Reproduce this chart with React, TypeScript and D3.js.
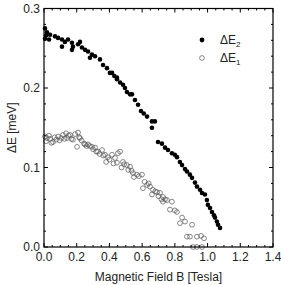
import * as d3 from 'd3';

// ΔE2 (filled) : [B (Tesla), ΔE (meV)]
const deltaE2: [number, number][] = [
  [0.006, 0.275], [0.018, 0.27], [0.006, 0.262], [0.012, 0.266], [0.037, 0.267],
  [0.031, 0.261], [0.067, 0.265], [0.086, 0.263], [0.11, 0.261], [0.11, 0.252],
  [0.128, 0.258], [0.147, 0.261], [0.171, 0.257], [0.177, 0.252], [0.171, 0.248],
  [0.208, 0.255], [0.22, 0.258], [0.232, 0.251], [0.251, 0.248], [0.269, 0.246],
  [0.293, 0.242], [0.312, 0.24], [0.281, 0.238], [0.342, 0.236], [0.361, 0.229],
  [0.385, 0.225], [0.416, 0.219], [0.446, 0.213], [0.403, 0.219], [0.43, 0.215],
  [0.446, 0.211], [0.465, 0.207], [0.483, 0.204], [0.495, 0.2], [0.507, 0.195],
  [0.526, 0.192], [0.538, 0.192], [0.556, 0.185], [0.575, 0.179], [0.593, 0.171],
  [0.61, 0.168], [0.63, 0.164], [0.66, 0.158], [0.678, 0.158], [0.66, 0.15],
  [0.697, 0.132], [0.721, 0.13], [0.74, 0.125], [0.758, 0.122], [0.782, 0.118],
  [0.8, 0.116], [0.813, 0.113], [0.831, 0.107], [0.844, 0.103], [0.862, 0.098],
  [0.874, 0.095], [0.892, 0.091], [0.905, 0.087], [0.923, 0.081], [0.935, 0.076],
  [0.954, 0.072], [0.966, 0.068], [0.984, 0.066], [0.996, 0.059], [1.002, 0.053],
  [1.015, 0.049], [1.027, 0.044], [1.039, 0.04], [1.045, 0.037], [1.057, 0.032],
  [1.064, 0.028], [1.076, 0.024],
];

// ΔE1 (open)
const deltaE1: [number, number][] = [
  [0.006, 0.139], [0.012, 0.133], [0.018, 0.137], [0.03, 0.14], [0.037, 0.136],
  [0.045, 0.131], [0.055, 0.132], [0.065, 0.138], [0.075, 0.135], [0.086, 0.139],
  [0.095, 0.134], [0.105, 0.137], [0.116, 0.141], [0.125, 0.136], [0.135, 0.143],
  [0.141, 0.137], [0.15, 0.14], [0.159, 0.141], [0.168, 0.136], [0.177, 0.135],
  [0.19, 0.142], [0.202, 0.126], [0.208, 0.144], [0.215, 0.138], [0.22, 0.137],
  [0.23, 0.134], [0.245, 0.13], [0.251, 0.129], [0.26, 0.127], [0.269, 0.129],
  [0.28, 0.127], [0.293, 0.126], [0.3, 0.123], [0.312, 0.125], [0.32, 0.12],
  [0.33, 0.12], [0.34, 0.117], [0.355, 0.122], [0.362, 0.115], [0.373, 0.116],
  [0.38, 0.107], [0.391, 0.113], [0.4, 0.11], [0.416, 0.116], [0.425, 0.105],
  [0.434, 0.112], [0.446, 0.106], [0.452, 0.118], [0.465, 0.12], [0.474, 0.1],
  [0.483, 0.107], [0.49, 0.104], [0.507, 0.103], [0.515, 0.097], [0.526, 0.101],
  [0.535, 0.096], [0.544, 0.093], [0.55, 0.088], [0.568, 0.091], [0.58, 0.089],
  [0.599, 0.091], [0.605, 0.074], [0.615, 0.082], [0.63, 0.078], [0.64, 0.08],
  [0.648, 0.076], [0.66, 0.066], [0.666, 0.072], [0.68, 0.07], [0.691, 0.069],
  [0.7, 0.064], [0.709, 0.068], [0.718, 0.06], [0.727, 0.063], [0.727, 0.057],
  [0.74, 0.06], [0.752, 0.059], [0.77, 0.047], [0.782, 0.057], [0.8, 0.046],
  [0.813, 0.044], [0.831, 0.03], [0.844, 0.037], [0.862, 0.032], [0.874, 0.013],
  [0.892, 0.013], [0.905, 0.028], [0.911, 0.0], [0.935, 0.013], [0.935, 0.0],
  [0.96, 0.014], [0.966, 0.0], [0.978, 0.011],
];

const xMajor = [0, 0.2, 0.4, 0.6, 0.8, 1.0, 1.2, 1.4];
const yMajor = [0, 0.1, 0.2, 0.3];

const width = 281;
const height = 285;
const margin = { top: 8.5, right: 8, bottom: 38, left: 44 };
const font = 'Liberation Sans, Arial, sans-serif';

export default function App() {
  const x = d3.scaleLinear().domain([0, 1.4]).range([margin.left, width - margin.right]);
  const y = d3.scaleLinear().domain([0, 0.3]).range([height - margin.bottom, margin.top]);
  const [x0, x1] = x.range();
  const [y0, y1] = y.range();

  const xMinor = d3.range(0, 1.4001, 0.05).filter(v => !xMajor.some(m => Math.abs(m - v) < 1e-6));
  const yMinor = d3.range(0, 0.3001, 0.02).filter(v => !yMajor.some(m => Math.abs(m - v) < 1e-6));

  return (
    <svg width={width} height={height} style={{ position: 'absolute', left: 0, top: 0 }} fontFamily={font}>
      <rect x={0} y={0} width={width} height={height} fill="#fff" />

      {/* ticks, inward on all four sides */}
      <g stroke="#000" strokeWidth={1}>
        {xMajor.map(v => (
          <g key={'xM' + v}>
            <line x1={x(v)} x2={x(v)} y1={y0} y2={y0 - 4} />
            <line x1={x(v)} x2={x(v)} y1={y1} y2={y1 + 4} />
          </g>
        ))}
        {xMinor.map(v => (
          <g key={'xm' + v}>
            <line x1={x(v)} x2={x(v)} y1={y0} y2={y0 - 2} />
            <line x1={x(v)} x2={x(v)} y1={y1} y2={y1 + 2} />
          </g>
        ))}
        {yMajor.map(v => (
          <g key={'yM' + v}>
            <line x1={x0} x2={x0 + 4} y1={y(v)} y2={y(v)} />
            <line x1={x1} x2={x1 - 4} y1={y(v)} y2={y(v)} />
          </g>
        ))}
        {yMinor.map(v => (
          <g key={'ym' + v}>
            <line x1={x0} x2={x0 + 2} y1={y(v)} y2={y(v)} />
            <line x1={x1} x2={x1 - 2} y1={y(v)} y2={y(v)} />
          </g>
        ))}
      </g>

      {/* ΔE1 open circles */}
      <g fill="none" stroke="#555" strokeWidth={0.7}>
        {deltaE1.map((d, i) => (
          <circle key={i} cx={x(d[0])} cy={y(d[1])} r={2.4} />
        ))}
      </g>

      {/* ΔE2 filled dots */}
      <g fill="#000">
        {deltaE2.map((d, i) => (
          <circle key={i} cx={x(d[0])} cy={y(d[1])} r={2.3} />
        ))}
      </g>

      <rect x={x0} y={y1} width={x1 - x0} height={y0 - y1} fill="none" stroke="#000" strokeWidth={1.2} />

      {/* tick labels */}
      <g fontSize={12} fill="#222">
        {xMajor.map(v => (
          <text key={'xl' + v} x={x(v)} y={y0 + 14} textAnchor="middle">{v.toFixed(1)}</text>
        ))}
        {yMajor.map(v => (
          <text key={'yl' + v} x={x0 - 4} y={y(v) + 4} textAnchor="end">{v.toFixed(1)}</text>
        ))}
      </g>

      {/* axis titles */}
      <text x={(x0 + x1) / 2} y={281} textAnchor="middle" fontSize={12} fill="#222">
        Magnetic Field B [Tesla]
      </text>
      <text transform={`translate(16,${(y0 + y1) / 2}) rotate(-90)`} textAnchor="middle" fontSize={12} fill="#222">
        ΔE [meV]
      </text>

      {/* legend */}
      <circle cx={202} cy={40} r={2.4} fill="#000" />
      <text x={220} y={44} fontSize={12} fill="#222">
        ΔE<tspan fontSize={8} dy={3}>2</tspan>
      </text>
      <circle cx={202} cy={58} r={2.4} fill="none" stroke="#555" strokeWidth={0.7} />
      <text x={220} y={62} fontSize={12} fill="#222">
        ΔE<tspan fontSize={8} dy={3}>1</tspan>
      </text>
    </svg>
  );
}
